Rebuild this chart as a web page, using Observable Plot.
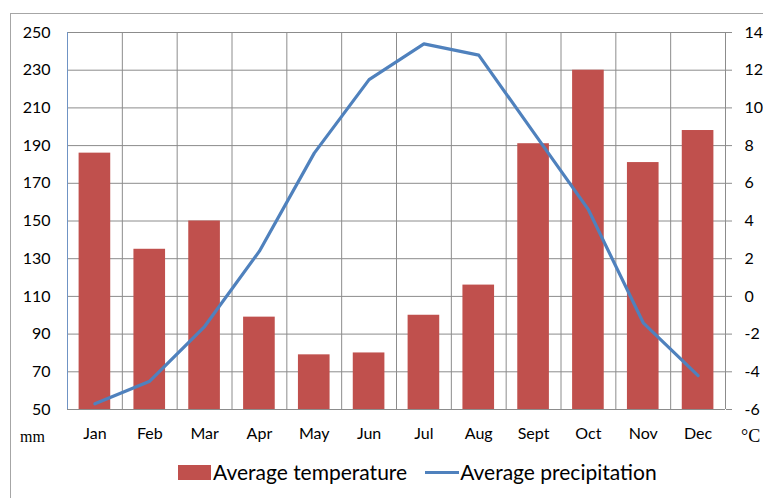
<!DOCTYPE html>
<html>
<head>
<meta charset="utf-8">
<script src="https://cdn.jsdelivr.net/npm/d3@7"></script>
<script src="https://cdn.jsdelivr.net/npm/@observablehq/plot@0.6"></script>
<style>
  body { margin: 0; background: #fff; }
  #wrap { position: relative; width: 763px; height: 498px; overflow: hidden; background: #fff; font-family: Lato, "Open Sans", sans-serif; }
  #frame { position: absolute; left: 10px; top: 13px; width: 800px; height: 600px; border-top: 1px solid #a6a6a6; border-left: 1px solid #a6a6a6; }
  #chart { position: absolute; left: 0; top: 0; }
  .unit { position: absolute; font-family: "Liberation Serif", serif; color: #000; }
  #legend { position: absolute; top: 459px; left: 178px; display: flex; align-items: center; font-size: 21px; line-height: 26px; color: #000; white-space: nowrap; }
  .sw-bar { width: 33px; height: 15px; background: #C0504D; margin-right: 2px; }
  .sw-line { width: 34px; height: 3px; background: #4F81BD; margin-left: 18px; margin-right: 1px; }
</style>
</head>
<body>
<div id="wrap">
  <div id="frame"></div>
  <div id="chart"></div>
  <div class="unit" style="left:20px; top:428px; font-size:16px;">mm</div>
  <div class="unit" style="left:741px; top:426px; font-size:18px;">°C</div>
  <div id="legend"><div class="sw-bar"></div><span>Average temperature</span><div class="sw-line"></div><span>Average precipitation</span></div>
</div>
<script>
const months = ["Jan","Feb","Mar","Apr","May","Jun","Jul","Aug","Sept","Oct","Nov","Dec"];
const barValues = [186,135,150,99,79,80,100,116,191,230,181,198];           // left axis, mm
const lineValues = [-5.7,-4.5,-1.6,2.4,7.6,11.5,13.4,12.8,8.7,4.6,-1.4,-4.2]; // right axis, °C
const leftTicks = [50,70,90,110,130,150,170,190,210,230,250];
const rightTicks = [-6,-4,-2,0,2,4,6,8,10,12,14];

// map right-axis (°C) values onto the shared left (mm) scale
const toLeft = t => 50 + (t - rightTicks[0]) * (leftTicks[leftTicks.length-1] - leftTicks[0]) / (rightTicks[rightTicks.length-1] - rightTicks[0]);

const bars = months.map((m, i) => ({i, month: m, value: barValues[i]}));
const line = months.map((m, i) => ({i, month: m, value: toLeft(lineValues[i])}));
const boundaries = d3.range(months.length + 1);

const chart = Plot.plot({
  width: 763,
  height: 450,
  marginLeft: 67,
  marginRight: 38,
  marginTop: 32,
  marginBottom: 41,
  style: {background: "transparent", fontFamily: "Lato, 'Open Sans', sans-serif", color: "#000"},
  x: {type: "linear", domain: [0, months.length]},
  y: {domain: [leftTicks[0], leftTicks[leftTicks.length-1]]},
  marks: [
    Plot.gridY(leftTicks, {stroke: "#8c8c8c", strokeOpacity: 1, strokeWidth: 1}),
    Plot.ruleX(boundaries, {stroke: "#8c8c8c", strokeWidth: 1}),
    Plot.rectY(bars, {x1: d => d.i, x2: d => d.i + 1, y1: leftTicks[0], y2: "value", fill: "#C0504D", insetLeft: 11.6, insetRight: 11.6}),
    Plot.ruleY([leftTicks[0]], {stroke: "#8c8c8c", strokeWidth: 1}),
    Plot.ruleX([0], {stroke: "#6f93c4", strokeWidth: 1}),
    Plot.line(line, {x: d => d.i + 0.5, y: "value", stroke: "#4F81BD", strokeWidth: 3.2}),
    Plot.axisY(leftTicks, {anchor: "left", tickSize: 0, tickPadding: 17, fontSize: 16, label: null}),
    Plot.axisY(leftTicks, {anchor: "right", tickSize: 6, tickPadding: 13, stroke: "#8c8c8c", fontSize: 16, label: null,
      tickFormat: (v, k) => String(rightTicks[k])}),
    Plot.axisX(months.map((m, i) => i + 0.5), {anchor: "bottom", tickSize: 0, tickPadding: 18, fontSize: 16, label: null,
      tickFormat: (v, k) => months[k]})
  ]
});
document.getElementById("chart").appendChild(chart);
</script>
</body>
</html>
